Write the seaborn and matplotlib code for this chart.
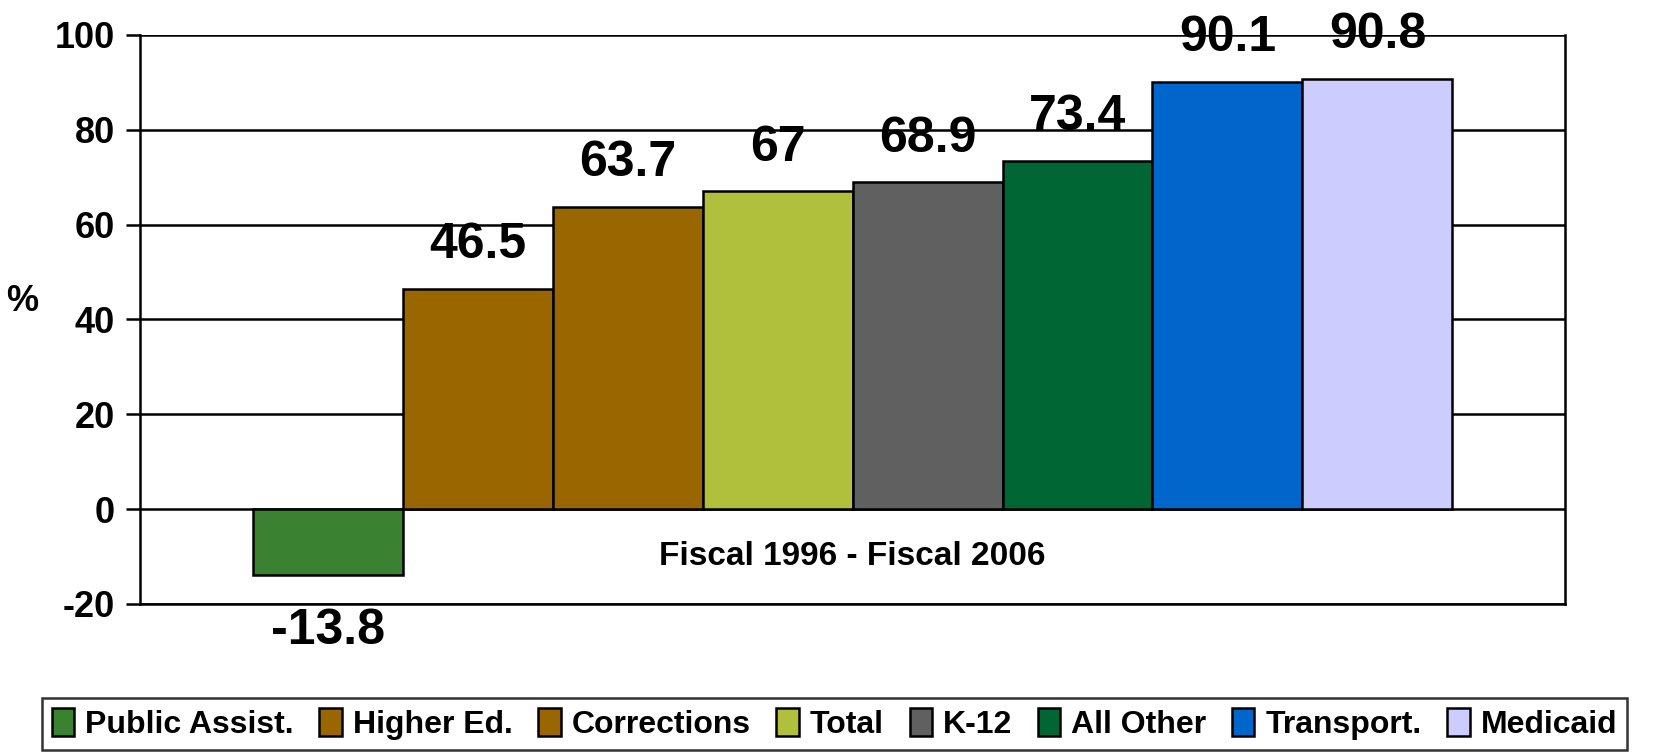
import matplotlib
matplotlib.use('Agg')
import matplotlib.pyplot as plt
import seaborn as sns
import pandas as pd

# data
series = ['Public Assist.', 'Higher Ed.', 'Corrections', 'Total', 'K-12',
          'All Other', 'Transport.', 'Medicaid']
values = [-13.8, 46.5, 63.7, 67, 68.9, 73.4, 90.1, 90.8]
labels = ['-13.8', '46.5', '63.7', '67', '68.9', '73.4', '90.1', '90.8']
colors = ['#3A8231', '#996600', '#996600', '#B0BF3C', '#606060',
          '#006633', '#0066CC', '#CCCCFF']
category = 'Fiscal 1996 - Fiscal 2006'

df = pd.DataFrame({'period': [category] * len(series), 'series': series, 'value': values})

sns.set_style('white')
plt.rcParams['font.family'] = ['Liberation Sans', 'DejaVu Sans']
plt.rcParams['font.weight'] = 'bold'
plt.rcParams['text.color'] = 'black'
plt.rcParams['ytick.color'] = 'black'
plt.rcParams['axes.labelcolor'] = 'black'
plt.rcParams['axes.unicode_minus'] = False

fig = plt.figure(figsize=(16.69, 7.54), dpi=100)
ax = fig.add_axes([0.0839, 0.199, 0.8538, 0.7547])

sns.barplot(data=df, x='period', y='value', hue='series', hue_order=series,
            palette=colors, width=0.842, edgecolor='black', linewidth=1.8,
            saturation=1, ax=ax, legend=True)

ax.set_ylim(-20, 100)
ax.set_xlim(-0.5, 0.5)
ax.set_yticks(range(-20, 101, 20))
ax.yaxis.grid(True, color='black', linewidth=1.8)
ax.set_axisbelow(True)
ax.tick_params(axis='y', direction='out', length=10, width=1.8, color='black',
               labelsize=26, pad=8, left=True)
ax.set_xticks([])
ax.set_xlabel('')
ax.set_ylabel('%', rotation=0, fontsize=26, fontweight='bold')
ax.yaxis.set_label_coords(-0.083, 0.5)
for s in ['left', 'right', 'bottom']:
    ax.spines[s].set_visible(True)
    ax.spines[s].set_color('black')
    ax.spines[s].set_linewidth(1.8)
ax.spines['top'].set_visible(False)

ax.text(0, -10, category, ha='center', va='center', fontsize=24, fontweight='bold')

# value labels
for bar, lab, v in zip(ax.patches, labels, values):
    x = bar.get_x() + bar.get_width() / 2
    if v >= 0:
        ax.annotate(lab, (x, v), xytext=(0, 22), textcoords='offset points',
                    ha='center', va='baseline', fontsize=36, fontweight='bold')
    else:
        ax.annotate(lab, (x, v), xytext=(0, -24), textcoords='offset points',
                    ha='center', va='top', fontsize=36, fontweight='bold')

handles, hl = ax.get_legend_handles_labels()
ax.get_legend().remove()
leg = fig.legend(handles, hl, loc='upper center', bbox_to_anchor=(0.5, 0.074),
                 ncol=8, frameon=True, fancybox=False, edgecolor='black',
                 handlelength=0.7, handleheight=1.0, handletextpad=0.35,
                 columnspacing=0.8, borderpad=0.3, borderaxespad=0,
                 prop={'weight': 'bold', 'size': 23})
leg.get_frame().set_linewidth(1.8)

fig.savefig('out.png', dpi=100)
